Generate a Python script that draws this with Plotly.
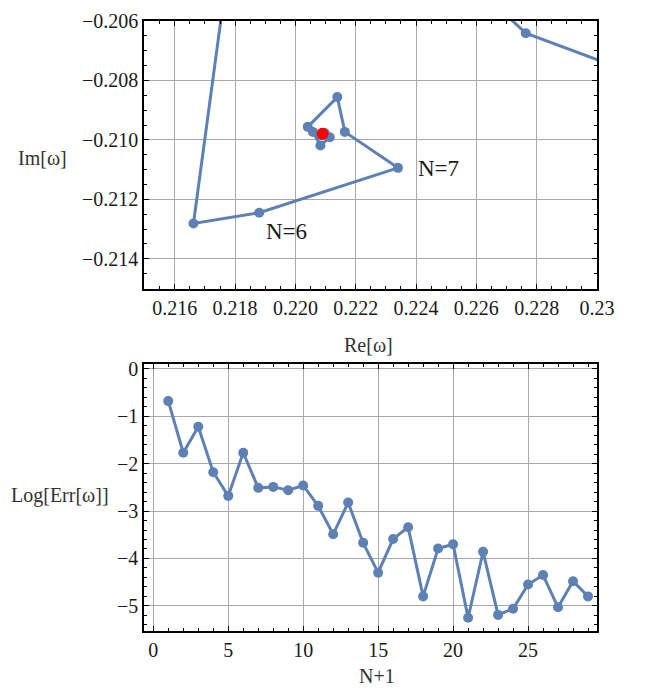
import plotly.graph_objects as go
from plotly.subplots import make_subplots

# Successive approximations of the quasinormal frequency, N = 0 .. 28
re_omega = [0.2700, 0.2480, 0.2345, 0.22764, 0.21860, 0.21662, 0.21880, 0.22340,
            0.22164, 0.22139, 0.22041, 0.22058, 0.22083, 0.22114, 0.22097,
            0.22086, 0.22093, 0.22089, 0.22091, 0.22090, 0.22089, 0.22090,
            0.22091, 0.22090, 0.22090, 0.22090, 0.22090, 0.22090, 0.22090]
im_omega = [-0.1700, -0.2260, -0.20899, -0.20641, -0.19790, -0.21281, -0.21245, -0.21094,
            -0.20973, -0.20856, -0.20956, -0.20973, -0.21019, -0.20991, -0.20977,
            -0.20984, -0.20981, -0.20977, -0.20980, -0.20978, -0.20979, -0.20980,
            -0.20979, -0.20979, -0.20979, -0.20979, -0.20979, -0.20979, -0.20979]

# Converged value
re_exact = [0.22090]
im_exact = [-0.20979]

# Log of the error versus N+1
n_plus_1 = list(range(1, 30))
log_err = [-0.68, -1.77, -1.22, -2.18, -2.68, -1.77, -2.51, -2.49, -2.56, -2.46,
           -2.89, -3.49, -2.82, -3.67, -4.30, -3.59, -3.34, -4.80, -3.79, -3.70,
           -5.25, -3.86, -5.19, -5.06, -4.55, -4.35, -5.03, -4.48, -4.80]

re_ticks = [0.216, 0.218, 0.220, 0.222, 0.224, 0.226, 0.228, 0.230]
re_ticktext = ["0.216", "0.218", "0.220", "0.222", "0.224", "0.226", "0.228", "0.23"]
im_ticks = [-0.206, -0.208, -0.210, -0.212, -0.214]
n_ticks = [0, 5, 10, 15, 20, 25]
err_ticks = [0, -1, -2, -3, -4, -5]

labels = [("N=6", 0.21969, -0.21307), ("N=7", 0.22473, -0.21096)]

BLUE = "#5E81B5"
FONT = "Liberation Serif, Times New Roman, serif"
GRID = "#a8a8a8"

fig = make_subplots(rows=2, cols=1)

fig.add_trace(go.Scatter(x=re_omega, y=im_omega, mode="lines+markers",
                         line=dict(color=BLUE, width=3),
                         marker=dict(color=BLUE, size=10),
                         cliponaxis=True, showlegend=False), row=1, col=1)
fig.add_trace(go.Scatter(x=re_exact, y=im_exact, mode="markers",
                         marker=dict(color="#ff0000", size=12),
                         showlegend=False), row=1, col=1)
fig.add_trace(go.Scatter(x=n_plus_1, y=log_err, mode="lines+markers",
                         line=dict(color=BLUE, width=3),
                         marker=dict(color=BLUE, size=10),
                         showlegend=False), row=2, col=1)

axis_common = dict(showline=True, linecolor="black", linewidth=1.5, mirror="allticks",
                   ticks="inside", ticklen=5, tickcolor="black", tickwidth=1,
                   showgrid=True, gridcolor=GRID, gridwidth=1, zeroline=False,
                   tickfont=dict(family=FONT, size=20, color="#1a1a1a"))

fig.update_xaxes(**axis_common, range=[0.21498, 0.2300], tickvals=re_ticks,
                 ticktext=re_ticktext,
                 minor=dict(ticks="inside", ticklen=3, dtick=0.0005, tick0=0.216,
                            tickcolor="black", showgrid=False),
                 row=1, col=1)
fig.update_yaxes(**axis_common, range=[-0.21502, -0.20600], tickvals=im_ticks,
                 tickformat=".3f",
                 minor=dict(ticks="inside", ticklen=3, dtick=0.0005, tick0=-0.206,
                            tickcolor="black", showgrid=False),
                 row=1, col=1)
fig.update_xaxes(**axis_common, range=[-0.62, 29.6], tickvals=n_ticks,
                 minor=dict(ticks="inside", ticklen=3, dtick=1, tick0=0,
                            tickcolor="black", showgrid=False),
                 row=2, col=1)
fig.update_yaxes(**axis_common, range=[-5.53, 0.1], tickvals=err_ticks,
                 minor=dict(ticks="inside", ticklen=3, dtick=0.2, tick0=0,
                            tickcolor="black", showgrid=False),
                 row=2, col=1)

fig.update_layout(
    xaxis=dict(domain=[0, 1], anchor="y"),
    yaxis=dict(domain=[0.5604, 1.0], anchor="x"),
    xaxis2=dict(domain=[0, 1], anchor="y2"),
    yaxis2=dict(domain=[0.0, 0.4375], anchor="x2"),
)

for text, x, y in labels:
    fig.add_annotation(x=x, y=y, xref="x", yref="y", text=text, showarrow=False,
                       font=dict(family=FONT, size=23, color="#1a1a1a"))

# Axis titles
titles = [("Re[ω]", 368, 340), ("Im[ω]", 42, 149), ("Log[Err[ω]]", 60, 493), ("N+1", 377, 677)]
W, H = 655, 692
L, R, T, B = 144, 58, 10, 61
for text, px, py in titles:
    fig.add_annotation(x=(px - L) / (W - L - R), y=(H - B - py) / (H - T - B),
                       xref="paper", yref="paper", text=text, showarrow=False,
                       xanchor="center", yanchor="middle",
                       font=dict(family=FONT, size=20, color="#333"))

fig.update_layout(width=W, height=H, margin=dict(l=L, r=R, t=T, b=B),
                  plot_bgcolor="white", paper_bgcolor="white")

fig.write_html("out.html")
